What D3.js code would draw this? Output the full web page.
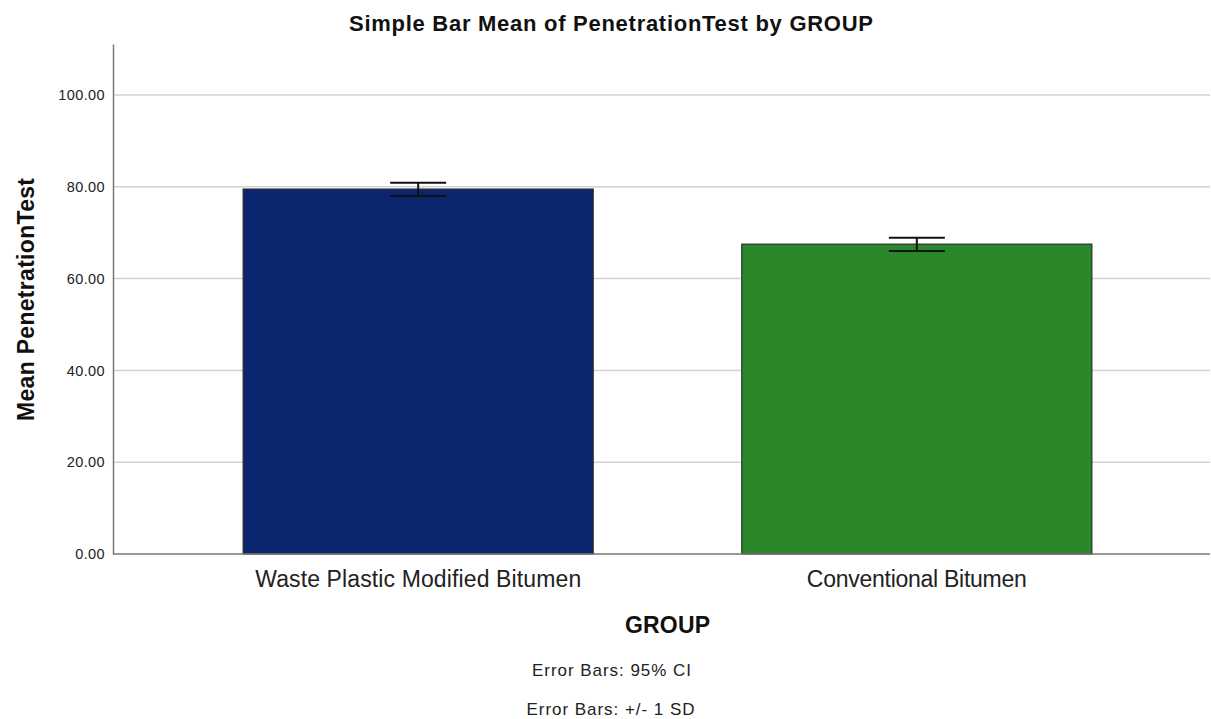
<!DOCTYPE html>
<html><head><meta charset="utf-8">
<script src="https://cdn.jsdelivr.net/npm/d3@7"></script>
<style>body{margin:0;background:#fff;} text{font-family:"Liberation Sans",Arial,sans-serif;}</style>
</head><body>
<svg id="c" width="1211" height="719"></svg>
<script>
const categories = ["Waste Plastic Modified Bitumen", "Conventional Bitumen"];
const means = [79.5, 67.5];
const errLow = [78.0, 66.0];
const errHigh = [80.9, 68.9];
const colors = ["#0b256e", "#2a882a"];
const yTicks = [0, 20, 40, 60, 80, 100];

const svg = d3.select("#c");
const L = 113, R = 1210, T = 44, B = 554;
const y = d3.scaleLinear().domain([0, 111.1]).range([B, T]);
const x = d3.scaleBand().domain(categories).range([L, 1222]).paddingInner(0.298).paddingOuter(0.261);

// grid
svg.append("g").selectAll("line").data(yTicks.filter(d => d > 0)).join("line")
  .attr("x1", L).attr("x2", R).attr("y1", d => y(d)).attr("y2", d => y(d))
  .attr("stroke", "#d2d2d2").attr("stroke-width", 1.5);

// bars
svg.append("g").selectAll("rect").data(categories).join("rect")
  .attr("x", d => x(d)).attr("width", x.bandwidth())
  .attr("y", (d, i) => y(means[i])).attr("height", (d, i) => B - y(means[i]))
  .attr("fill", (d, i) => colors[i]).attr("stroke", "#2b2b2b").attr("stroke-width", 1.2);

// error bars
const eb = svg.append("g").attr("stroke", "#111").attr("stroke-width", 2);
categories.forEach((c, i) => {
  const cx = x(c) + x.bandwidth() / 2;
  eb.append("line").attr("x1", cx).attr("x2", cx).attr("y1", y(errHigh[i])).attr("y2", y(errLow[i]));
  eb.append("line").attr("x1", cx - 28).attr("x2", cx + 28).attr("y1", y(errHigh[i])).attr("y2", y(errHigh[i]));
  eb.append("line").attr("x1", cx - 28).attr("x2", cx + 28).attr("y1", y(errLow[i])).attr("y2", y(errLow[i]));
});

// y axis
const ya = d3.axisLeft(y).tickValues(yTicks).tickFormat(d3.format(".2f")).tickSize(0).tickPadding(8);
const gy = svg.append("g").attr("transform", `translate(${L},0)`).call(ya);
gy.select(".domain").attr("stroke", "#777").attr("stroke-width", 1.5);
gy.selectAll("text").attr("font-size", 14.5).attr("letter-spacing", 0.4).attr("fill", "#222")
  .attr("font-family", "Liberation Sans, Arial, sans-serif");

// x axis
const xa = d3.axisBottom(x).tickSize(0).tickPadding(0);
const gx = svg.append("g").attr("transform", `translate(0,${B})`).call(xa);
gx.select(".domain").attr("stroke", "#777").attr("stroke-width", 1.5).attr("d", `M${L},0H${R}`);
gx.selectAll("text").attr("font-size", 23).attr("fill", "#222").attr("dy", null).attr("y", 33)
  .attr("font-family", "Liberation Sans, Arial, sans-serif")
  .attr("textLength", (d, i) => [326, 220][i]).attr("lengthAdjust", "spacing");

// titles
svg.append("text").attr("x", 611).attr("y", 31).attr("text-anchor", "middle")
  .attr("font-size", 22).attr("font-weight", "bold").attr("fill", "#111")
  .attr("textLength", 524).attr("lengthAdjust", "spacing")
  .text("Simple Bar Mean of PenetrationTest by GROUP");
svg.append("text").attr("x", 667.5).attr("y", 633).attr("text-anchor", "middle")
  .attr("font-size", 23).attr("font-weight", "bold").attr("fill", "#111")
  .attr("textLength", 85).attr("lengthAdjust", "spacing").text("GROUP");
svg.append("text").attr("transform", "translate(34,299.5) rotate(-90)").attr("text-anchor", "middle")
  .attr("font-size", 23).attr("font-weight", "bold").attr("fill", "#111")
  .attr("textLength", 243).attr("lengthAdjust", "spacing").text("Mean PenetrationTest");
svg.append("text").attr("x", 611.5).attr("y", 676).attr("text-anchor", "middle")
  .attr("font-size", 17).attr("fill", "#222")
  .attr("textLength", 159).attr("lengthAdjust", "spacing").text("Error Bars: 95% CI");
svg.append("text").attr("x", 610.5).attr("y", 715).attr("text-anchor", "middle")
  .attr("font-size", 17).attr("fill", "#222")
  .attr("textLength", 168).attr("lengthAdjust", "spacing").text("Error Bars: +/- 1 SD");
</script>
</body></html>
